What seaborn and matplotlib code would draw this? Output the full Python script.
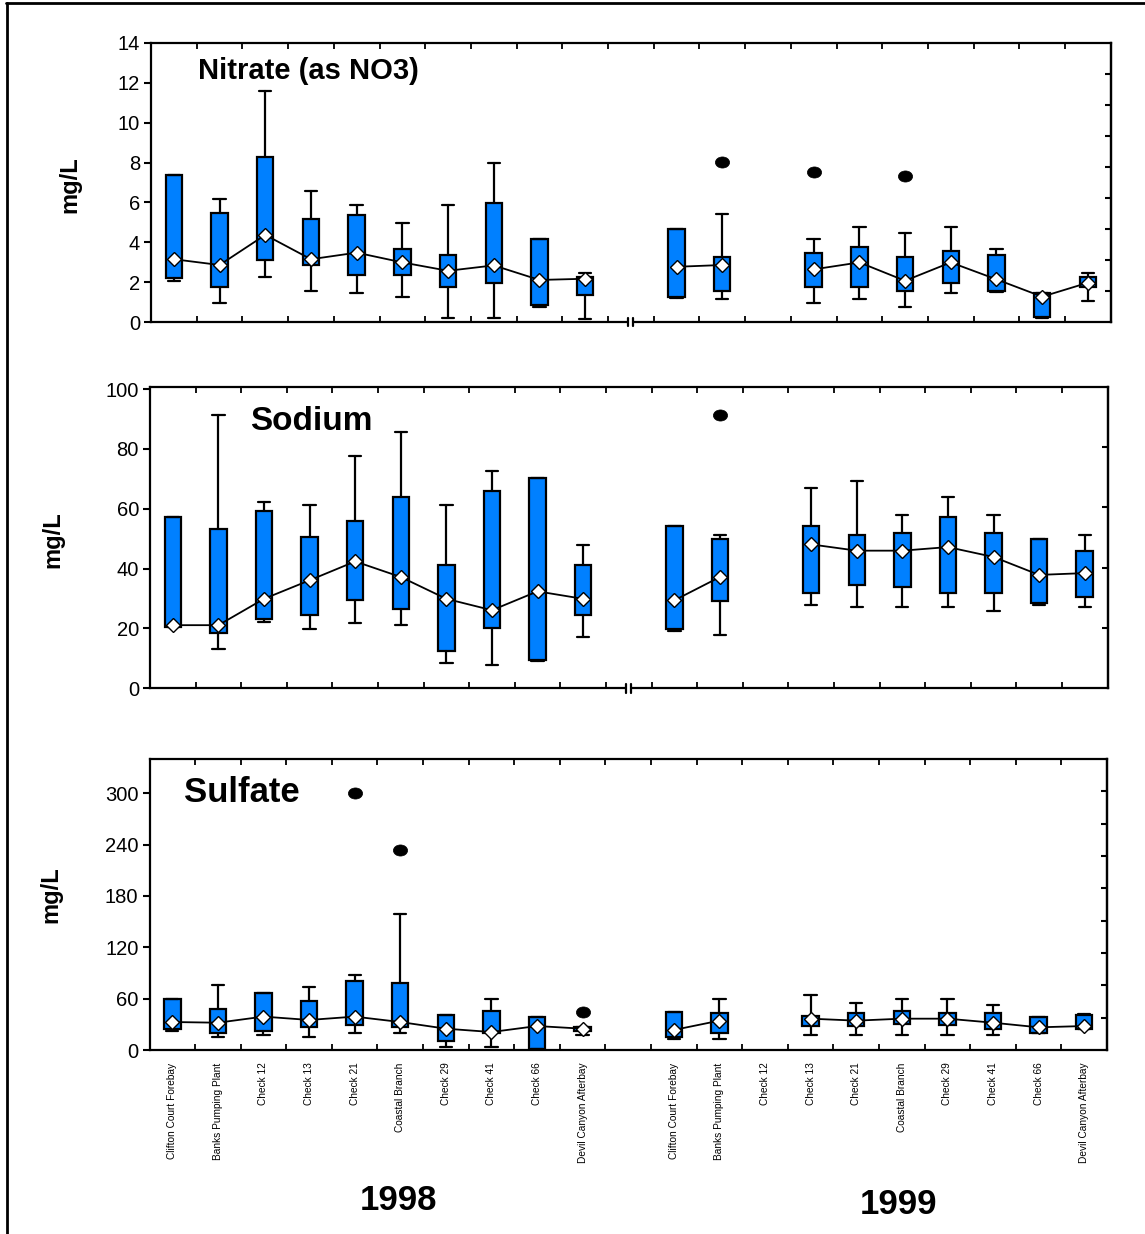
import numpy as np
import pandas as pd
import matplotlib
matplotlib.use("Agg")
import matplotlib.pyplot as plt
import seaborn as sns
from matplotlib.lines import Line2D
from matplotlib.path import Path
from matplotlib.transforms import Affine2D

# ---------------------------------------------------------------- data
sites = ["Clifton Court Forebay", "Banks Pumping Plant", "Check 12", "Check 13",
         "Check 21", "Coastal Branch", "Check 29", "Check 41", "Check 66",
         "Devil Canyon Afterbay"]
years = ["1998", "1999"]
nan = np.nan

# Nitrate (as NO3), mg/L -- ten 1998 sites followed by ten 1999 sites
no3_lo = [2.07, 0.97, 2.27, 1.57, 1.47, 1.27, 0.18, 0.18, 0.77, 0.17,
          1.19, 1.17, nan, 0.97, 1.17, 0.77, 1.47, 1.50, 0.18, 1.07]
no3_q1 = [2.19, 1.77, 3.11, 2.86, 2.36, 2.36, 1.77, 1.97, 0.84, 1.35,
          1.27, 1.57, nan, 1.77, 1.77, 1.57, 1.97, 1.57, 0.27, 1.74]
no3_med = [3.15, 2.86, 4.37, 3.15, 3.48, 2.99, 2.57, 2.84, 2.11, 2.17,
           2.77, 2.86, nan, 2.64, 2.99, 2.07, 2.99, 2.14, 1.27, 1.97]
no3_q3 = [7.38, 5.49, 8.28, 5.17, 5.37, 3.66, 3.35, 5.97, 4.16, 2.24,
          4.67, 3.25, nan, 3.48, 3.75, 3.25, 3.56, 3.36, 1.44, 2.24]
no3_hi = [7.38, 6.17, 11.59, 6.59, 5.89, 4.98, 5.89, 8.00, 4.16, 2.47,
          4.67, 5.40, nan, 4.16, 4.77, 4.48, 4.77, 3.66, 1.44, 2.47]
no3_out_site = ["Banks Pumping Plant", "Check 13", "Coastal Branch"]
no3_out_year = ["1999", "1999", "1999"]
no3_out_val = [8.05, 7.55, 7.35]

# Sodium, mg/L
na_lo = [20.5, 13.3, 22.0, 19.9, 21.9, 21.2, 8.5, 7.9, 9.0, 17.2,
         19.2, 17.8, nan, 27.9, 27.2, 27.2, 27.2, 25.9, 28.0, 27.2]
na_q1 = [20.5, 18.4, 23.3, 24.5, 29.4, 26.5, 12.5, 20.0, 9.4, 24.5,
         19.9, 29.2, nan, 31.9, 34.5, 33.9, 31.9, 31.9, 28.5, 30.5]
na_med = [21.1, 21.1, 29.9, 36.1, 42.4, 37.2, 29.9, 26.1, 32.4, 29.9,
          29.4, 37.2, nan, 48.1, 46.0, 46.0, 47.2, 43.9, 37.9, 38.5]
na_q3 = [57.2, 53.1, 59.1, 50.5, 55.8, 63.8, 41.2, 65.8, 70.4, 41.2,
         54.4, 49.8, nan, 54.4, 51.1, 51.8, 57.2, 51.8, 49.8, 45.8]
na_hi = [57.2, 91.3, 62.4, 61.1, 77.8, 85.8, 61.1, 72.5, 70.4, 47.9,
         54.4, 51.2, nan, 67.1, 69.2, 57.8, 63.8, 57.8, 49.8, 51.2]
na_out_site = ["Banks Pumping Plant"]
na_out_year = ["1999"]
na_out_val = [91.4]

# Sulfate, mg/L
so4_lo = [22.6, 15.6, 17.9, 15.6, 20.3, 20.3, 3.9, 3.9, 0.8, 17.0,
          13.2, 13.2, nan, 17.9, 17.9, 17.9, 17.9, 17.9, 19.5, 24.2]
so4_q1 = [24.9, 19.5, 22.6, 27.3, 29.2, 27.3, 10.9, 20.3, 0.8, 22.0,
          15.6, 20.3, nan, 28.0, 28.0, 30.4, 29.6, 24.9, 19.5, 24.2]
so4_med = [32.7, 31.9, 39.0, 35.1, 39.0, 32.7, 24.9, 21.0, 28.0, 24.9,
           23.4, 34.3, nan, 36.6, 34.3, 36.6, 36.6, 31.9, 26.5, 28.0]
so4_q3 = [60.0, 48.3, 66.2, 57.3, 81.0, 77.9, 40.5, 45.6, 39.0, 27.0,
          44.8, 42.9, nan, 39.7, 42.9, 45.2, 42.9, 42.9, 38.2, 40.5]
so4_hi = [60.0, 76.0, 66.2, 73.6, 87.6, 158.6, 40.5, 60.0, 39.0, 27.0,
          44.8, 60.0, nan, 64.3, 54.6, 60.0, 60.0, 52.6, 38.2, 41.5]
so4_out_site = ["Check 21", "Coastal Branch", "Devil Canyon Afterbay"]
so4_out_year = ["1998", "1998", "1998"]
so4_out_val = [300.0, 233.7, 44.4]

# ---------------------------------------------------------------- style
sns.set_theme(style="ticks")
plt.rcParams["font.family"] = ["Liberation Sans", "DejaVu Sans"]
plt.rcParams["axes.linewidth"] = 1.6
for key in ("text.color", "axes.labelcolor", "xtick.color", "ytick.color",
            "axes.edgecolor"):
    plt.rcParams[key] = "black"

BOX_BLUE = "#0080ff"
W, H = 1145, 1234


def slot(year, site):
    # one empty slot separates the two years on the shared x axis
    return years.index(year) * (len(sites) + 1) + sites.index(site)


positions = [slot(y, s) for y in years for s in sites]
tick_labels = [s for y in years for s in sites]
outlier_marker = Path.unit_circle().transformed(Affine2D().scale(1.0, 0.78))


def fig_rect(left, top, right, bottom):
    return [left / W, 1 - bottom / H, (right - left) / W, (bottom - top) / H]


def panel(ax, lo, q1, med, q3, hi, o_site, o_year, o_val,
          ylim, yticks, n_right, show_labels, show_break):
    df = pd.DataFrame({"pos": positions, "lo": lo, "q1": q1, "med": med,
                       "q3": q3, "hi": hi}).dropna()

    stats = [dict(med=r.med, q1=r.q1, q3=r.q3, whislo=r.lo, whishi=r.hi,
                  fliers=[]) for r in df.itertuples()]
    ax.bxp(stats, positions=df["pos"].tolist(), widths=0.36, capwidths=0.27,
           patch_artist=True, showfliers=False, manage_ticks=False,
           boxprops=dict(facecolor=BOX_BLUE, edgecolor="black", linewidth=1.6),
           whiskerprops=dict(color="black", linewidth=1.6),
           capprops=dict(color="black", linewidth=1.6),
           medianprops=dict(linewidth=0))

    # medians joined within each unbroken run of sites
    df["run"] = (df["pos"].diff() != 1).cumsum()
    sns.lineplot(data=df, x="pos", y="med", units="run", estimator=None,
                 sort=False, color="black", linewidth=1.3, marker="D",
                 markersize=7.4, markerfacecolor="white",
                 markeredgecolor="black", markeredgewidth=1.0,
                 legend=False, ax=ax, zorder=5)

    if o_val:
        opos = [slot(y, s) for y, s in zip(o_year, o_site)]
        sns.scatterplot(x=opos, y=o_val, marker=outlier_marker, s=105,
                        color="black", edgecolor="black", linewidth=0.5,
                        legend=False, ax=ax, zorder=6)

    ax.set_xlim(-0.5, 20.5)
    ax.set_ylim(*ylim)
    ax.set_yticks(yticks)
    ax.set_xticks(positions)
    ax.set_xticks(np.arange(0.5, 20.0, 1.0), minor=True)
    if show_labels:
        ax.set_xticklabels(tick_labels, rotation=90, fontsize=7.3)
    else:
        ax.set_xticklabels([])
    ax.set_xlabel("")
    ax.set_ylabel("")
    ax.tick_params(axis="x", which="major", length=0, pad=9)
    ax.tick_params(axis="x", which="minor", direction="in", top=True,
                   bottom=True, length=4, width=1.3)
    ax.tick_params(axis="y", which="both", direction="out", left=True,
                   right=False, length=5, width=1.5, labelsize=14.5, pad=3)
    for sp in ax.spines.values():
        sp.set_visible(True)
        sp.set_linewidth(1.6)
        sp.set_color("black")

    sec = ax.secondary_yaxis("right")
    sec.set_yticks(np.linspace(ylim[0], ylim[1], n_right + 1)[1:-1])
    sec.set_yticklabels([])
    sec.tick_params(direction="in", length=4, width=1.5, color="black")
    sec.spines["right"].set_linewidth(1.6)
    sec.spines["right"].set_color("black")

    if show_break:
        trans = ax.get_xaxis_transform()
        ax.plot([9.945, 10.055], [0, 0], color="white", lw=3, transform=trans,
                clip_on=False, zorder=10, solid_capstyle="butt")
        for xb in (9.945, 10.055):
            ax.plot([xb, xb], [-0.015, 0.015], color="black", lw=1.6,
                    transform=trans, clip_on=False, zorder=11)


fig = plt.figure(figsize=(W / 100, H / 100), dpi=100)

ax1 = fig.add_axes(fig_rect(151, 43, 1110.7, 322))
panel(ax1, no3_lo, no3_q1, no3_med, no3_q3, no3_hi,
      no3_out_site, no3_out_year, no3_out_val,
      (0, 14), np.arange(0, 15, 2), 9, False, True)

ax2 = fig.add_axes(fig_rect(150, 386.7, 1107.5, 688.3))
panel(ax2, na_lo, na_q1, na_med, na_q3, na_hi,
      na_out_site, na_out_year, na_out_val,
      (0, 100.8), np.arange(0, 101, 20), 5, False, True)

ax3 = fig.add_axes(fig_rect(149.5, 759, 1107, 1050))
panel(ax3, so4_lo, so4_q1, so4_med, so4_q3, so4_hi,
      so4_out_site, so4_out_year, so4_out_val,
      (0, 340), np.arange(0, 301, 60), 9, True, False)


def ftext(x, y, s, **kw):
    fig.text(x / W, 1 - y / H, s, color="black", **kw)


ftext(198, 71, "Nitrate (as NO3)", fontsize=21, weight="bold", va="center", ha="left")
ftext(250, 421, "Sodium", fontsize=24, weight="bold", va="center", ha="left")
ftext(184, 792, "Sulfate", fontsize=25, weight="bold", va="center", ha="left")

for x, y in [(70, 185), (53, 540), (51, 895)]:
    ftext(x, y, "mg/L", fontsize=17, weight="bold", rotation=90,
          va="center", ha="center")

ftext(398, 1200, "1998", fontsize=25, weight="bold", va="center", ha="center")
ftext(898, 1205, "1999", fontsize=25, weight="bold", va="center", ha="center")

# page frame along the top and left edges
fig.add_artist(Line2D([6 / W, 1.0], [1 - 2.5 / H, 1 - 2.5 / H], color="black",
                      lw=2, transform=fig.transFigure))
fig.add_artist(Line2D([7 / W, 7 / W], [0.0, 1 - 2.5 / H], color="black",
                      lw=2, transform=fig.transFigure))

fig.savefig("out.png", dpi=100)
